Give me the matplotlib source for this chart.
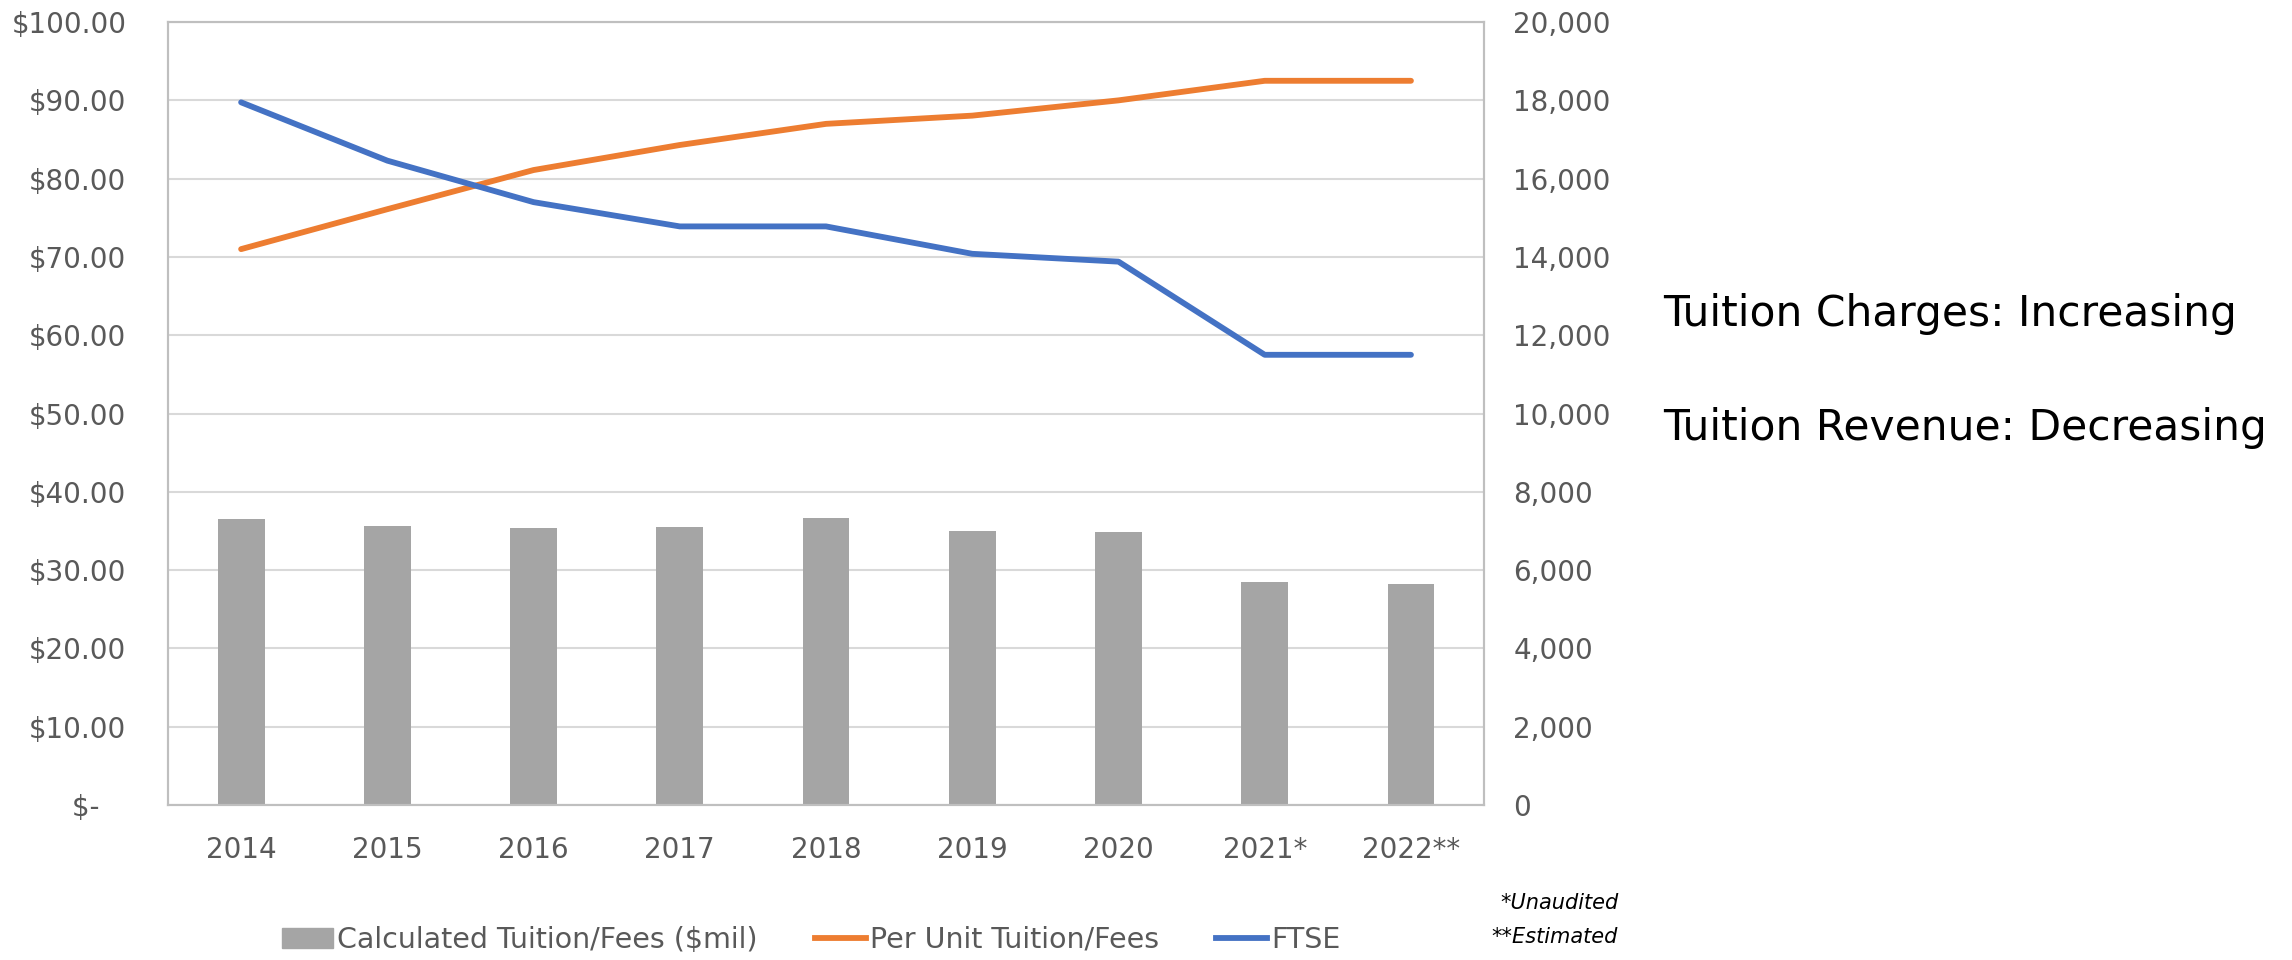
import numpy as np
import matplotlib
matplotlib.use('Agg')
import matplotlib.pyplot as plt
from matplotlib.patches import Patch
from matplotlib.lines import Line2D

years = ['2014', '2015', '2016', '2017', '2018', '2019', '2020', '2021*', '2022**']
tuition_mil = [36.55, 35.6, 35.4, 35.5, 36.6, 35.05, 34.9, 28.5, 28.2]
per_unit = [71.0, 76.1, 81.1, 84.3, 87.0, 88.05, 90.0, 92.5, 92.5]
ftse = [17950, 16460, 15400, 14780, 14780, 14080, 13880, 11500, 11500]

left_ticks = [0, 10, 20, 30, 40, 50, 60, 70, 80, 90, 100]
left_labels = ['$-   '] + ['$%.2f' % v for v in left_ticks[1:]]
right_ticks = list(range(0, 20001, 2000))

grey = '#A5A5A5'
orange = '#ED7D31'
blue = '#4472C4'
txt = '#595959'
gridc = '#D9D9D9'

fig = plt.figure(figsize=(22.92, 9.6), dpi=100)
ax = fig.add_axes([0.0733, 0.1615, 0.5742, 0.8155])
ax2 = ax.twinx()

x = np.arange(len(years))
ax.bar(x, tuition_mil, width=0.32, color=grey, zorder=2)
ax.plot(x, per_unit, color=orange, lw=4.2, solid_capstyle='round', zorder=3)
ax2.plot(x, ftse, color=blue, lw=4.2, solid_capstyle='round', zorder=3)

ax.set_xlim(-0.5, len(years) - 0.5)
ax.set_ylim(0, 100)
ax2.set_ylim(0, 20000)
ax.set_yticks(left_ticks)
ax.set_yticklabels(left_labels)
ax2.set_yticks(right_ticks)
ax2.set_yticklabels(['{:,}'.format(v) for v in right_ticks])
ax.set_xticks(x)
ax.set_xticklabels(years)

ax.grid(axis='y', color=gridc, lw=1.5, zorder=0)
ax.set_axisbelow(True)
for a in (ax, ax2):
    for s in a.spines.values():
        s.set_color('#BFBFBF')
        s.set_linewidth(1.5)
    a.tick_params(length=0, labelsize=20, colors=txt)
ax.tick_params(axis='x', pad=22)
ax.tick_params(axis='y', pad=30)
ax2.tick_params(axis='y', pad=21)

handles = [Patch(color=grey),
           Line2D([0], [0], color=orange, lw=4.2),
           Line2D([0], [0], color=blue, lw=4.2)]
labels = ['Calculated Tuition/Fees ($mil)', 'Per Unit Tuition/Fees', 'FTSE']
fig.legend(handles, labels, loc='center', bbox_to_anchor=(0.354, 0.021), ncol=3,
           frameon=False, fontsize=20.5, labelcolor=txt, handlelength=1.8,
           handletextpad=0.15, columnspacing=2.0)

fig.text(0.706, 0.059, '*Unaudited', ha='right', va='center', style='italic', fontsize=15)
fig.text(0.706, 0.024, '**Estimated', ha='right', va='center', style='italic', fontsize=15)

fig.text(0.7256, 0.673, 'Tuition Charges: Increasing', ha='left', va='center', fontsize=30.5)
fig.text(0.7256, 0.554, 'Tuition Revenue: Decreasing', ha='left', va='center', fontsize=30.5)

fig.savefig('out.png', dpi=100)
